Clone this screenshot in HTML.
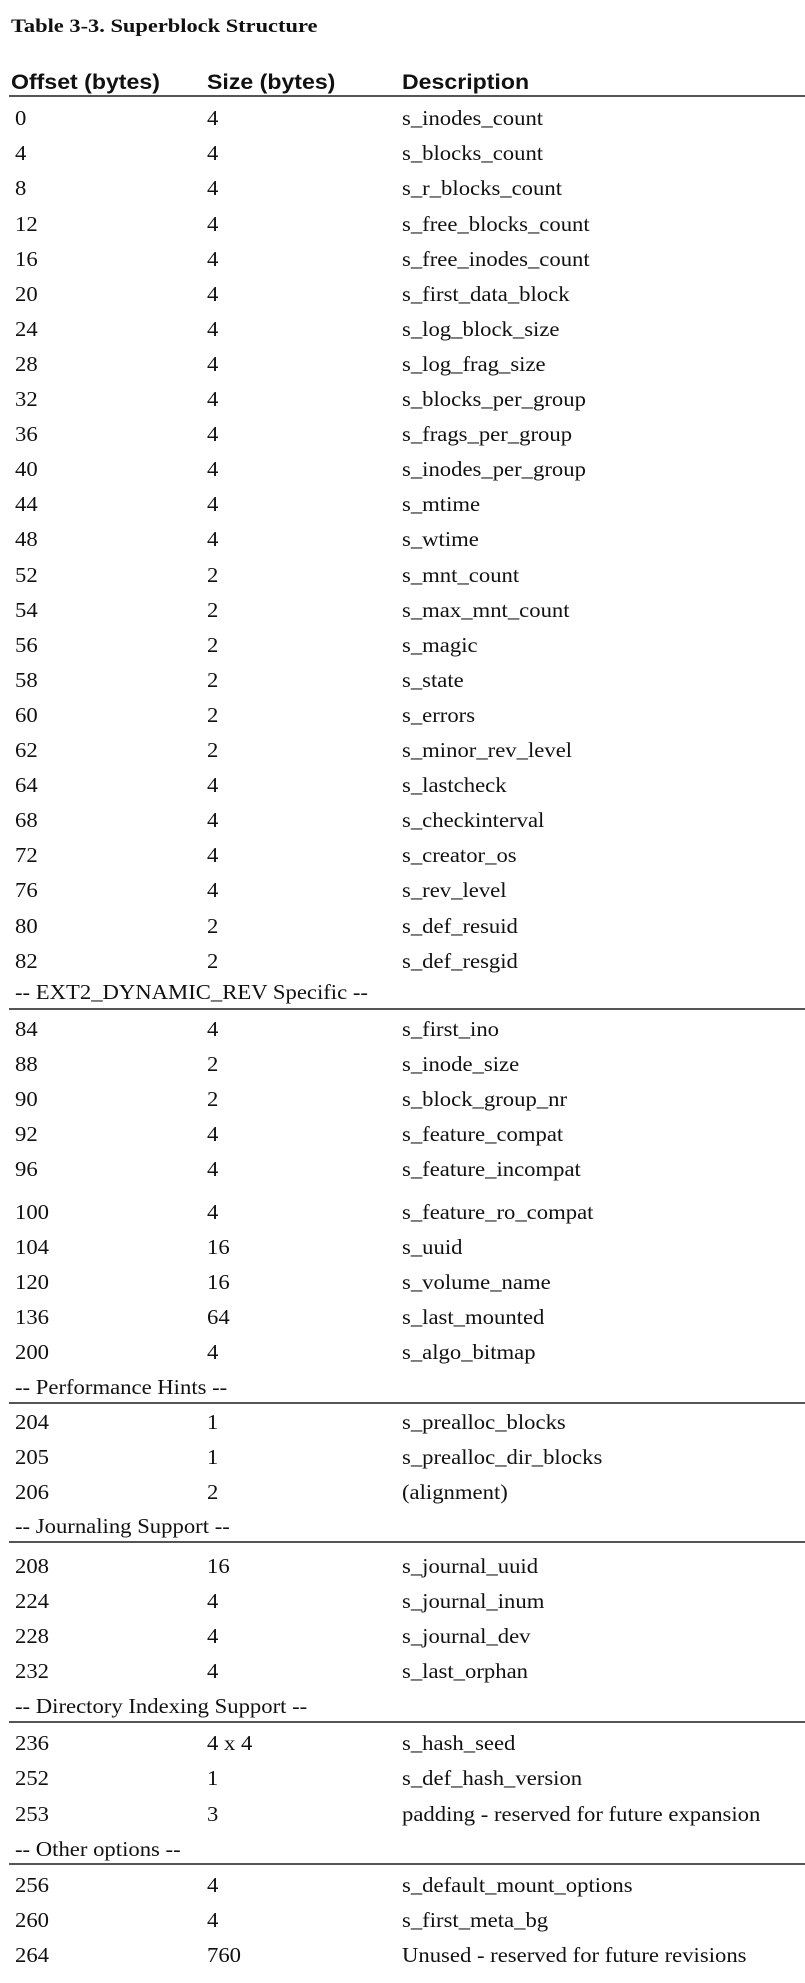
<!DOCTYPE html>
<html><head><meta charset="utf-8"><style>
html,body{margin:0;padding:0;background:#fff;}
body{width:805px;height:1983px;position:relative;overflow:hidden;}
.t{position:absolute;white-space:nowrap;line-height:1;font-family:"Liberation Serif",serif;font-size:21px;color:#111;transform:scaleX(1.08);transform-origin:0 0;}
.h{font-family:"Liberation Sans",sans-serif;font-weight:bold;transform:scaleX(1.1);}
.ti{font-weight:bold;font-size:19px;transform:scaleX(1.18);}
.ln{position:absolute;left:9px;right:0;height:2px;background:#555;}
</style></head><body>
<div class="t ti" style="left:11px;top:17px">Table 3-3. Superblock Structure</div>
<div class="t h" style="left:11px;top:72px">Offset (bytes)</div>
<div class="t h" style="left:207px;top:72px">Size (bytes)</div>
<div class="t h" style="left:402px;top:72px">Description</div>
<div class="ln" style="top:95px"></div>
<div id="rows"></div>
<script>
var R=[
[125.8,"0","4","s_inodes_count"],
[160.9,"4","4","s_blocks_count"],
[196.0,"8","4","s_r_blocks_count"],
[231.1,"12","4","s_free_blocks_count"],
[266.2,"16","4","s_free_inodes_count"],
[301.3,"20","4","s_first_data_block"],
[336.4,"24","4","s_log_block_size"],
[371.5,"28","4","s_log_frag_size"],
[406.6,"32","4","s_blocks_per_group"],
[441.7,"36","4","s_frags_per_group"],
[476.8,"40","4","s_inodes_per_group"],
[511.9,"44","4","s_mtime"],
[547.0,"48","4","s_wtime"],
[582.1,"52","2","s_mnt_count"],
[617.2,"54","2","s_max_mnt_count"],
[652.3,"56","2","s_magic"],
[687.4,"58","2","s_state"],
[722.5,"60","2","s_errors"],
[757.6,"62","2","s_minor_rev_level"],
[792.7,"64","4","s_lastcheck"],
[827.8,"68","4","s_checkinterval"],
[862.9,"72","4","s_creator_os"],
[898.0,"76","4","s_rev_level"],
[933.1,"80","2","s_def_resuid"],
[968.2,"82","2","s_def_resgid"],
[1000,"-- EXT2_DYNAMIC_REV Specific --",null,null,1009],
[1036.7,"84","4","s_first_ino"],
[1071.7,"88","2","s_inode_size"],
[1106.7,"90","2","s_block_group_nr"],
[1141.7,"92","4","s_feature_compat"],
[1176.7,"96","4","s_feature_incompat"],
[1220,"100","4","s_feature_ro_compat"],
[1255,"104","16","s_uuid"],
[1290,"120","16","s_volume_name"],
[1325,"136","64","s_last_mounted"],
[1360,"200","4","s_algo_bitmap"],
[1395,"-- Performance Hints --",null,null,1403],
[1430,"204","1","s_prealloc_blocks"],
[1465,"205","1","s_prealloc_dir_blocks"],
[1500,"206","2","(alignment)"],
[1534,"-- Journaling Support --",null,null,1542],
[1574,"208","16","s_journal_uuid"],
[1609,"224","4","s_journal_inum"],
[1644,"228","4","s_journal_dev"],
[1679,"232","4","s_last_orphan"],
[1714,"-- Directory Indexing Support --",null,null,1722],
[1751,"236","4 x 4","s_hash_seed"],
[1786,"252","1","s_def_hash_version"],
[1822,"253","3","padding - reserved for future expansion"],
[1857,"-- Other options --",null,null,1864],
[1893,"256","4","s_default_mount_options"],
[1928,"260","4","s_first_meta_bg"],
[1963,"264","760","Unused - reserved for future revisions"]
];
var h="";
R.forEach(function(r){
 var top=(r[0]-17.6).toFixed(1);
 h+='<div class="t" style="left:15px;top:'+top+'px">'+r[1]+'</div>';
 if(r[2]!==null){
  h+='<div class="t" style="left:207px;top:'+top+'px">'+r[2]+'</div>';
  h+='<div class="t" style="left:402px;top:'+top+'px">'+r[3]+'</div>';
 } else {
  h+='<div class="ln" style="top:'+(r[4]-1)+'px"></div>';
 }
});
document.getElementById("rows").innerHTML=h;
</script>
</body></html>
